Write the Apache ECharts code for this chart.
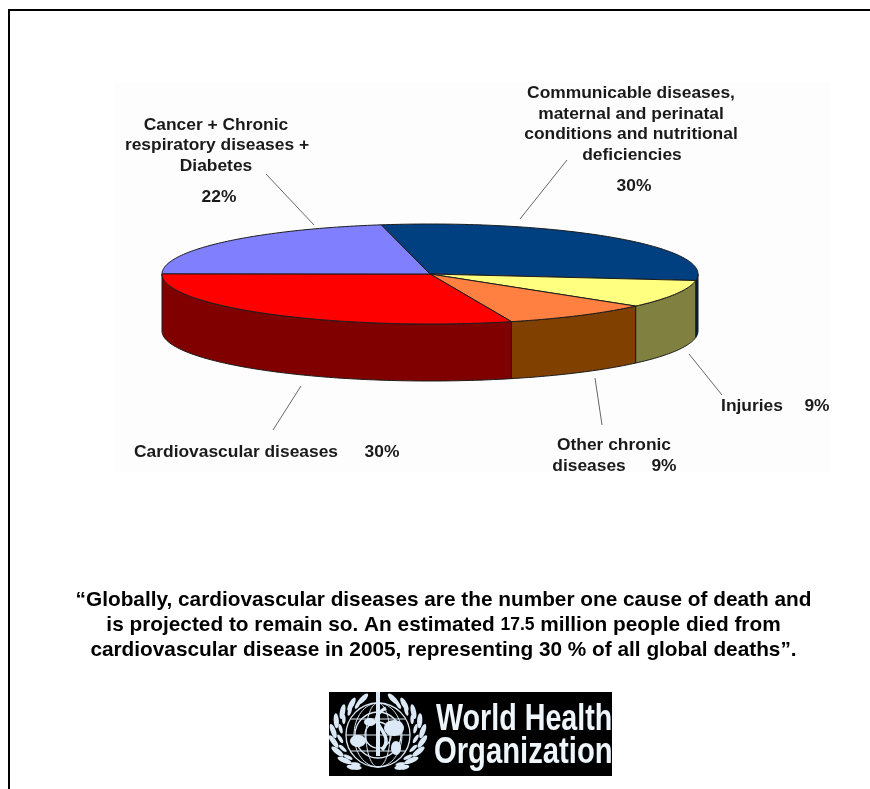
<!DOCTYPE html>
<html>
<head>
<meta charset="utf-8">
<style>html,body{margin:0;padding:0;background:#fff}#chart{width:870px;height:789px}</style>
<script src="https://cdn.jsdelivr.net/npm/echarts@6/dist/echarts.min.js"></script>
</head>
<body>
<div id="chart"></div>
<script>
// Global causes of death, share of all deaths (%)
const causes = ['Communicable diseases', 'Injuries', 'Other chronic diseases', 'Cardiovascular diseases', 'Cancer + Chronic respiratory diseases + Diabetes'];
const shares = [30, 9, 9, 30, 22];
const topColors = ['#003f80', '#ffff80', '#ff8040', '#ff0000', '#8080ff'];
const sideColors = ['#002040', '#808040', '#804000', '#800000', '#404080'];
const quoteLines = [
  '“Globally, cardiovascular diseases are the number one cause of death and',
  'is projected to remain so. An estimated {s|17.5} million people died from',
  'cardiovascular disease in 2005, representing 30 % of all global deaths”.'
];

// Tilted disc geometry
const disc = { cx: 430, cy: 274, rx: 268, ry: 50, depth: 57, start: -10.5 };
const total = shares.reduce((a, b) => a + b, 0);
const rimPoint = (deg, drop) => {
  const a = deg * Math.PI / 180;
  return [disc.cx + disc.rx * Math.sin(a), disc.cy - disc.ry * Math.cos(a) + (drop || 0)];
};
const arc = (from, to, drop) => {
  const pts = [];
  const n = Math.max(2, Math.ceil(Math.abs(to - from)));
  for (let i = 0; i <= n; i++) pts.push(rimPoint(from + (to - from) * i / n, drop));
  return pts;
};
const startOf = i => disc.start + shares.slice(0, i).reduce((a, b) => a + b, 0) / total * 360;

function renderSlice(params, api) {
  const i = api.value(0);
  const a0 = startOf(i);
  const a1 = a0 + api.value(1) / total * 360;
  const edge = { stroke: '#1c1c1c', lineWidth: 1, lineJoin: 'round' };
  const children = [];
  // Only the part of the rim facing the viewer gets a wall
  const w0 = Math.max(a0, 90), w1 = Math.min(a1, 270);
  if (w1 > w0) {
    children.push({
      type: 'polygon',
      shape: { points: arc(w0, w1, 0).concat(arc(w1, w0, disc.depth)) },
      style: Object.assign({ fill: sideColors[i] }, edge)
    });
  }
  children.push({
    type: 'polygon',
    z2: 5,
    shape: { points: [[disc.cx, disc.cy]].concat(arc(a0, a1, 0)) },
    style: Object.assign({ fill: topColors[i] }, edge)
  });
  return { type: 'group', children };
}

// Callout text
const labelStyle = { font: 'bold 17.4px "Liberation Sans", Arial, sans-serif', fill: '#1a1a1a', textAlign: 'center', textVerticalAlign: 'middle' };
const pct = i => shares[i] + '%';
const callouts = [
  ['Cancer + Chronic', 216, 125], ['respiratory diseases +', 217, 145], ['Diabetes', 216, 166], [pct(4), 219, 197],
  ['Communicable diseases,', 631, 93], ['maternal and perinatal', 631, 114], ['conditions and nutritional', 631, 134], ['deficiencies', 632, 155], [pct(0), 634, 186],
  ['Injuries', 752, 406], [pct(1), 817, 406],
  ['Other chronic', 614, 445], ['diseases', 589, 466], [pct(2), 664, 466],
  ['Cardiovascular diseases', 236, 452], [pct(3), 382, 452]
];
const leaders = [
  [266, 174, 314, 225], [567, 160, 520, 219], [689, 354, 722, 395], [595, 378, 602, 425], [301, 386, 273, 430]
];

const elements = [];
elements.push({ type: 'rect', shape: { x: 115, y: 82, width: 716, height: 390 }, style: { fill: '#fdfdfd' }, z: -2 });
elements.push({ type: 'polyline', shape: { points: [[9, 789], [9, 10], [870, 10]] }, style: { stroke: '#000', lineWidth: 2, fill: null } });
leaders.forEach(l => elements.push({
  type: 'line', shape: { x1: l[0], y1: l[1], x2: l[2], y2: l[3] }, style: { stroke: '#666', lineWidth: 1 }
}));
callouts.forEach(c => elements.push({
  type: 'text', x: c[1], y: c[2], style: Object.assign({ text: c[0] }, labelStyle)
}));
quoteLines.forEach((line, i) => elements.push({
  type: 'text', x: 443.5, y: 600 + i * 25,
  style: {
    text: line, font: 'bold 20.8px "Liberation Sans", Arial, sans-serif', fill: '#000',
    textAlign: 'center', textVerticalAlign: 'middle',
    rich: { s: { font: 'bold 17.5px "Liberation Sans", Arial, sans-serif', fill: '#000' } }
  }
}));

// Organisation emblem and wordmark
const logoBlue = '#dbe9f6';
const logo = { cx: 378, cy: 735 };
elements.push({ type: 'rect', shape: { x: 329, y: 692, width: 283, height: 84 }, style: { fill: '#000' } });
[32, 23, 13].forEach(r => elements.push({
  type: 'circle', shape: { cx: logo.cx, cy: logo.cy, r }, style: { fill: null, stroke: logoBlue, lineWidth: 1.3 }
}));
[12, 24].forEach(rx => elements.push({
  type: 'ellipse', shape: { cx: logo.cx, cy: logo.cy, rx, ry: 32 }, style: { fill: null, stroke: logoBlue, lineWidth: 1 }
}));
[-16, 0, 16].forEach(dy => {
  const half = Math.sqrt(32 * 32 - dy * dy);
  elements.push({ type: 'line', shape: { x1: logo.cx - half, y1: logo.cy + dy, x2: logo.cx + half, y2: logo.cy + dy }, style: { stroke: logoBlue, lineWidth: 1 } });
});
// Laurel leaves down both sides, outer and inner rows
[-1, 1].forEach(side => {
  [[45, 38, 2.6, 7.5, 20], [38, 36, 1.8, 5, 32]].forEach(row => {
    for (let deg = row[4]; deg <= 158; deg += 16) {
      const a = deg * Math.PI / 180;
      elements.push({
        type: 'ellipse',
        x: logo.cx + side * row[0] * Math.sin(a), y: logo.cy - row[1] * Math.cos(a),
        rotation: side * (Math.PI / 2 - a) - side * 0.45,
        shape: { cx: 0, cy: 0, rx: row[2], ry: row[3] },
        style: { fill: logoBlue }
      });
    }
  });
});
// Landmasses, staff and serpent
[[358, 741, 8, 6], [394, 728, 10, 8], [370, 722, 6, 4], [396, 748, 5, 7]].forEach(b => elements.push({
  type: 'ellipse', shape: { cx: b[0], cy: b[1], rx: b[2], ry: b[3] }, style: { fill: logoBlue }
}));
elements.push({ type: 'rect', shape: { x: 376, y: 692, width: 4, height: 64 }, style: { fill: logoBlue } });
elements.push({
  type: 'bezierCurve',
  shape: { x1: 386, y1: 708, x2: 382, y2: 750, cpx1: 360, cpy1: 722, cpx2: 398, cpy2: 732 },
  style: { stroke: logoBlue, lineWidth: 3.5, fill: null }
});
[['World Health', 436, 720, 0.775], ['Organization', 434, 753, 0.79]].forEach(t => elements.push({
  type: 'text', x: t[1], y: t[2], scaleX: t[3],
  style: {
    text: t[0], font: 'bold 37px "Liberation Sans", Arial, sans-serif', fill: '#eef5fb',
    textVerticalAlign: 'middle', shadowColor: '#5b9bd5', shadowBlur: 2
  }
}));

const chart = echarts.init(document.getElementById('chart'), null, { renderer: 'canvas' });
chart.setOption({
  animation: false,
  backgroundColor: '#fff',
  graphic: { elements },
  series: [{
    type: 'custom',
    coordinateSystem: 'none',
    silent: true,
    z: 3,
    renderItem: renderSlice,
    data: shares.map((v, i) => ({ name: causes[i], value: [i, v] }))
  }]
});
</script>
</body>
</html>
